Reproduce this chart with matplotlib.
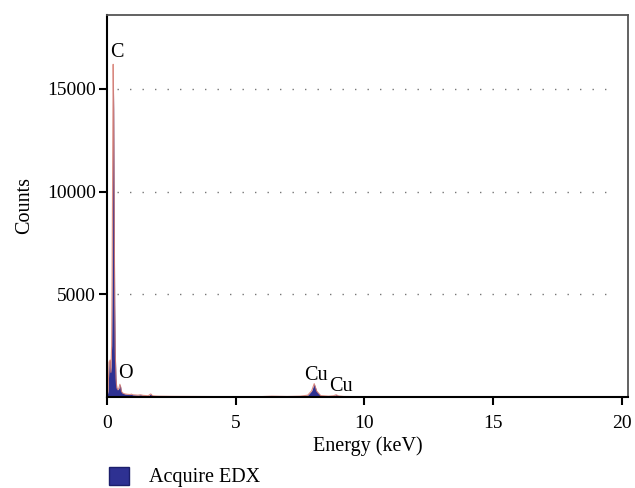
import matplotlib
matplotlib.use("Agg")
import matplotlib.pyplot as plt
from matplotlib.patches import Patch

plt.rcParams['font.family'] = ['Liberation Serif', 'DejaVu Serif']

# --- data ---
energy_kev = [0.00, 0.04, 0.08, 0.12, 0.15, 0.18, 0.20, 0.22, 0.24, 0.26, 0.28, 0.30,
              0.32, 0.35, 0.38, 0.42, 0.46, 0.50, 0.53, 0.56, 0.60, 0.65, 0.70, 0.80,
              0.90, 0.95, 1.00, 1.10, 1.20, 1.30, 1.40, 1.50, 1.60, 1.70, 1.75, 1.80,
              1.90, 2.00, 2.30, 2.60, 3.00, 3.50, 4.00, 5.00, 6.00, 6.40, 7.00, 7.50,
              7.80, 7.95, 8.05, 8.15, 8.30, 8.60, 8.80, 8.90, 9.00, 9.20, 10.0, 12.0,
              15.0, 20.0]
counts = [0, 300, 1700, 1800, 1200, 2500, 6000, 11500, 16200, 14000, 9000, 4500,
          2200, 900, 450, 350, 420, 620, 500, 280, 200, 170, 150, 130,
          120, 140, 110, 100, 90, 110, 80, 70, 60, 150, 80, 55,
          45, 40, 35, 30, 28, 25, 22, 18, 20, 40, 25, 40,
          90, 300, 650, 280, 70, 40, 60, 110, 50, 25, 15, 10,
          5, 0]

peak_labels = ["C", "O", "Cu", "Cu"]
peak_x = [0.38, 0.70, 8.10, 9.07]
peak_y = [16750, 1120, 1070, 500]

x_ticks = [0, 5, 10, 15, 20]
y_ticks = [5000, 10000, 15000]
series_name = "Acquire EDX"

fill_color = "#2e3192"
line_color = "#d77a6e"

W, H = 635, 488
fig = plt.figure(figsize=(W / 100, H / 100), dpi=100)
ax = fig.add_axes([107 / W, 1 - 397 / H, (628 - 107) / W, (397 - 15) / H])

ax.fill_between(energy_kev, counts, 0, color=fill_color, linewidth=0)
ax.plot(energy_kev, counts, color=line_color, linewidth=0.8, alpha=0.85)

ax.set_xlim(0, 20.24)
ax.set_ylim(0, 18600)

for yv in y_ticks:
    ax.axhline(yv, xmin=0.02, xmax=0.975, color="#777777", linewidth=1.0,
               linestyle=(0, (1, 8)), zorder=0)

for lab, xv, yv in zip(peak_labels, peak_x, peak_y):
    ax.text(xv, yv, lab, fontsize=14.5, ha="center", va="center")

ax.set_xticks(x_ticks)
ax.set_yticks(y_ticks)
ax.set_xticklabels([str(v) for v in x_ticks], fontsize=14)
ax.set_yticklabels([str(v) for v in y_ticks], fontsize=14)
ax.tick_params(axis="both", direction="out", length=6, width=1.5, color="black")
ax.tick_params(axis="x", pad=7)
ax.tick_params(axis="y", pad=2)

ax.set_xlabel("Energy (keV)", fontsize=14.5, labelpad=3)
ax.set_ylabel("Counts", fontsize=14.5, labelpad=9)

for s in ["left", "bottom"]:
    ax.spines[s].set_linewidth(1.5)
    ax.spines[s].set_color("black")
for s in ["top", "right"]:
    ax.spines[s].set_linewidth(1.3)
    ax.spines[s].set_color("#555555")

fig.legend(handles=[Patch(facecolor=fill_color, edgecolor="#1c1f6b")],
           labels=[series_name], loc="center left",
           bbox_to_anchor=(109 / W, 1 - 477 / H), frameon=False,
           handlelength=1.0, handleheight=1.0, borderpad=0, borderaxespad=0,
           handletextpad=1.0, fontsize=14.5)

fig.savefig("out.png", dpi=100)
